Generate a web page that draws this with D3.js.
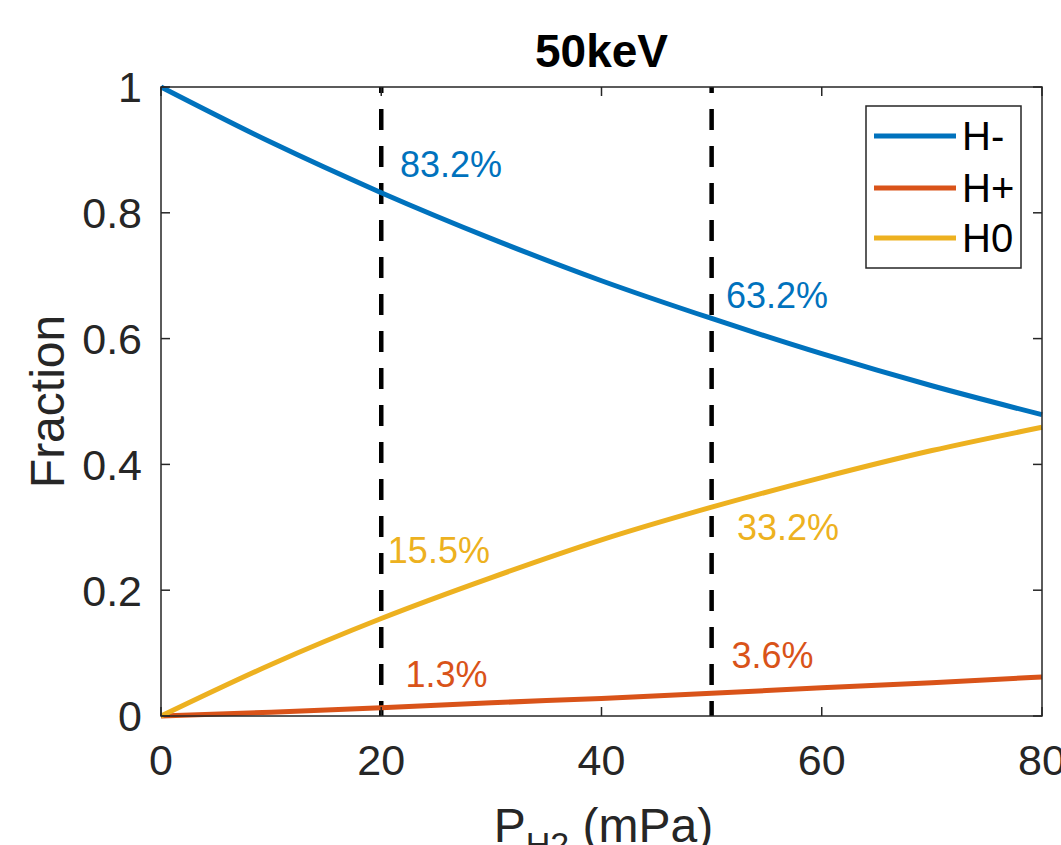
<!DOCTYPE html>
<html>
<head>
<meta charset="utf-8">
<script src="https://cdn.jsdelivr.net/npm/d3@7"></script>
<style>
  body { margin: 0; background: #fff; }
  svg { display: block; font-family: "Liberation Sans", Arial, Helvetica, sans-serif; }
</style>
</head>
<body>
<div id="chart"></div>
<script>
// presion de H2 (mPa) y fracciones
const presion = [0, 10, 20, 30, 40, 50, 60, 70, 80];
const hMenos = [1.0, 0.912, 0.832, 0.759, 0.692, 0.632, 0.576, 0.525, 0.479];
const hMas = [0.0, 0.006, 0.013, 0.021, 0.028, 0.036, 0.045, 0.053, 0.062];
const hCero = [0.0, 0.082, 0.155, 0.220, 0.280, 0.332, 0.379, 0.422, 0.459];

const nombres = ["H-", "H+", "H0"];
const colores = ["#0072BD", "#D95319", "#EDB120"];

const xTicks = [0, 20, 40, 60, 80];
const yTicks = [0, 0.2, 0.4, 0.6, 0.8, 1];
const lineasVerticales = [20, 50];

// etiquetas de porcentaje (texto, x, y en unidades de datos, serie)
const etiquetas = ["83.2%", "63.2%", "15.5%", "33.2%", "1.3%", "3.6%"];
const etiquetaX = [21.7, 51.3, 20.6, 52.3, 22.2, 51.8];
const etiquetaY = [0.857, 0.649, 0.243, 0.280, 0.046, 0.076];
const etiquetaSerie = [0, 0, 2, 2, 1, 1];

const W = 1061, H = 845;
const margin = { left: 161, right: 19, top: 87, bottom: 129 };
const axisColor = "#262626";

const svg = d3.select("#chart").append("svg")
    .attr("width", W)
    .attr("height", H);

const x = d3.scaleLinear().domain([0, 80]).range([margin.left, W - margin.right]);
const y = d3.scaleLinear().domain([0, 1]).range([H - margin.bottom, margin.top]);

// lineas punteadas verticales
svg.selectAll("line.vert")
    .data(lineasVerticales)
    .enter().append("line")
    .attr("x1", d => x(d)).attr("x2", d => x(d))
    .attr("y1", y(1)).attr("y2", y(0))
    .attr("stroke", "#000")
    .attr("stroke-width", 4.5)
    .attr("stroke-dasharray", "21,16")
    .attr("stroke-dashoffset", 15);

// curvas
const series = [hMenos, hMas, hCero];
const line = d3.line()
    .x((d, i) => x(presion[i]))
    .y(d => y(d))
    .curve(d3.curveMonotoneX);

series.forEach((s, k) => {
    svg.append("path")
        .datum(s)
        .attr("fill", "none")
        .attr("stroke", colores[k])
        .attr("stroke-width", 5)
        .attr("d", line);
});

// ejes tipo caja
const g = svg.append("g");
g.append("rect")
    .attr("x", x(0)).attr("y", y(1))
    .attr("width", x(80) - x(0))
    .attr("height", y(0) - y(1))
    .attr("fill", "none")
    .attr("stroke", axisColor)
    .attr("stroke-width", 1.5);

const tickLen = 9;
xTicks.forEach(t => {
    g.append("line").attr("x1", x(t)).attr("x2", x(t))
        .attr("y1", y(0)).attr("y2", y(0) - tickLen)
        .attr("stroke", axisColor).attr("stroke-width", 1.5);
    g.append("line").attr("x1", x(t)).attr("x2", x(t))
        .attr("y1", y(1)).attr("y2", y(1) + tickLen)
        .attr("stroke", axisColor).attr("stroke-width", 1.5);
    g.append("text")
        .attr("x", x(t)).attr("y", 775)
        .attr("text-anchor", "middle")
        .attr("font-size", 43)
        .attr("fill", axisColor)
        .text(t);
});

yTicks.forEach(t => {
    g.append("line").attr("x1", x(0)).attr("x2", x(0) + tickLen)
        .attr("y1", y(t)).attr("y2", y(t))
        .attr("stroke", axisColor).attr("stroke-width", 1.5);
    g.append("line").attr("x1", x(80)).attr("x2", x(80) - tickLen)
        .attr("y1", y(t)).attr("y2", y(t))
        .attr("stroke", axisColor).attr("stroke-width", 1.5);
    g.append("text")
        .attr("x", 142).attr("y", y(t))
        .attr("dy", "0.36em")
        .attr("text-anchor", "end")
        .attr("font-size", 43)
        .attr("fill", axisColor)
        .text(t);
});

// titulo
svg.append("text")
    .attr("x", (x(0) + x(80)) / 2).attr("y", 67)
    .attr("text-anchor", "middle")
    .attr("font-size", 46)
    .attr("font-weight", "bold")
    .attr("fill", "#000")
    .text("50keV");

// etiqueta eje y
svg.append("text")
    .attr("transform", "translate(64," + ((y(0) + y(1)) / 2) + ") rotate(-90)")
    .attr("text-anchor", "middle")
    .attr("font-size", 48)
    .attr("fill", axisColor)
    .text("Fraction");

// etiqueta eje x con subindice
const xl = svg.append("text")
    .attr("x", (x(0) + x(80)) / 2 + 2).attr("y", 842)
    .attr("text-anchor", "middle")
    .attr("font-size", 48)
    .attr("fill", axisColor);
xl.append("tspan").text("P");
xl.append("tspan").attr("font-size", 34).attr("dy", 14).text("H2");
xl.append("tspan").attr("dy", -14).text(" (mPa)");

// porcentajes
etiquetas.forEach((txt, i) => {
    svg.append("text")
        .attr("x", x(etiquetaX[i])).attr("y", y(etiquetaY[i]))
        .attr("font-size", 36)
        .attr("fill", colores[etiquetaSerie[i]])
        .text(txt);
});

// leyenda
const leg = svg.append("g");
leg.append("rect")
    .attr("x", 866).attr("y", 106)
    .attr("width", 155).attr("height", 162)
    .attr("fill", "#fff")
    .attr("stroke", axisColor)
    .attr("stroke-width", 1.5);
const legY = [136, 188, 238];
nombres.forEach((n, i) => {
    leg.append("line")
        .attr("x1", 874).attr("x2", 956)
        .attr("y1", legY[i]).attr("y2", legY[i])
        .attr("stroke", colores[i])
        .attr("stroke-width", 5);
    leg.append("text")
        .attr("x", 962).attr("y", legY[i])
        .attr("dy", "0.36em")
        .attr("font-size", 40)
        .attr("fill", "#000")
        .text(n);
});
</script>
</body>
</html>
